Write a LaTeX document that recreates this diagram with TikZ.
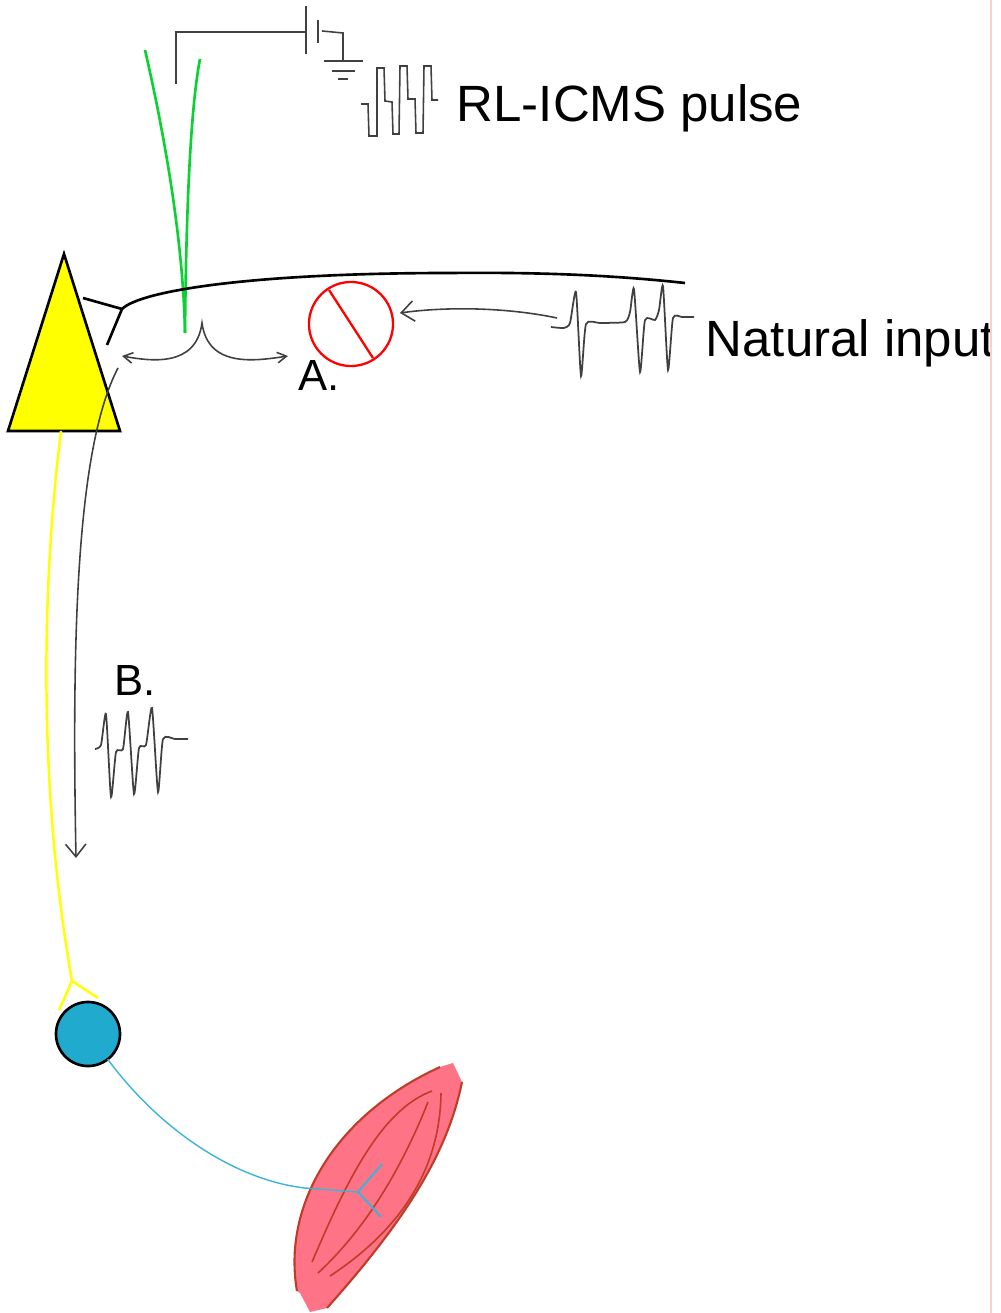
\documentclass[tikz,border=0pt]{standalone}
\usepackage{fontspec}
\setmainfont{Liberation Sans}
\usetikzlibrary{arrows.meta}
\tikzset{
	thinline/.style={line width=0.45pt,draw=black!75},
	heavyline/.style={line width=0.75pt,draw=black},
	spikeline/.style={line width=0.5pt,draw=black!75,smooth,tension=0.35},
	musclefibre/.style={line width=0.45pt,draw=musclered,smooth},
	bigbarb/.style={-{Straight Barb[length=3.6pt,width=5.8pt,line width=0.45pt]}},
	biglabel/.style={inner sep=0pt,anchor=base west,font=\fontsize{14.5pt}{17pt}\selectfont},
	smalllabel/.style={inner sep=0pt,anchor=base west,font=\fontsize{12.4pt}{15pt}\selectfont}
}
\definecolor{electrode}{RGB}{10,210,50}
\definecolor{bodyyellow}{RGB}{255,255,0}
\definecolor{motorblue}{RGB}{32,170,205}
\definecolor{nerveblue}{RGB}{60,180,215}
\definecolor{musclepink}{RGB}{255,115,135}
\definecolor{musclered}{RGB}{190,60,40}
\definecolor{edgepink}{RGB}{255,205,205}
\begin{document}
\begin{tikzpicture}[x=0.01cm,y=-0.01cm]
	\useasboundingbox (0,0) rectangle (1000,1313);

	% stimulator wire, battery and ground
	\draw[thinline] (176,84) -- (176,32) -- (306,32);
	\draw[thinline] (306,6) -- (306,54);
	\draw[thinline] (318,20) -- (318,43);
	\draw[thinline] (322,31) -- (343,33) -- (343,61);
	\draw[thinline] (324,61) -- (363,61);
	\draw[thinline] (332,71) -- (355,71);
	\draw[thinline] (338,79) -- (348,79);
	\draw[thinline] (361,104) -- (368,104) -- (369,136) -- (377,136) -- (377,68) -- (384,68) -- (385,101) -- (392,102) -- (393,134) -- (399,134) -- (400,66) -- (407,66) -- (408,99) -- (415,99) -- (416,133) -- (423,133) -- (424,66) -- (431,66) -- (432,100) -- (438,100);
	\node[biglabel] (pulselabel) at (456,122) {RL-ICMS pulse};

	% electrode
	\draw[line width=0.75pt,electrode] (145,50) .. controls (160,115) and (183,230) .. (185,333);
	\draw[line width=0.75pt,electrode] (200,59) .. controls (190,110) and (186,220) .. (185,333);

	% cell body and dendrite
	\draw[heavyline,fill=bodyyellow] (64,254) -- (120,431) -- (8,431) -- cycle;
	\coordinate (fork) at (122,309);
	\draw[heavyline] (fork) .. controls (140,291) and (250,273) .. (450,273) .. controls (550,272) and (620,276) .. (685,283);
	\draw[heavyline] (83,298) -- (fork) -- (107,345);

	% blocked input
	\node[circle,draw=red,line width=0.65pt,minimum size=0.84cm,inner sep=0pt,outer sep=0pt] (block) at (351,324) {};
	\draw[line width=0.65pt,red] (329,290) -- (373,358);
	\coordinate (nattail) at (557,318);
	\coordinate (nathead) at (400,313);
	\draw[thinline,bigbarb] (nattail) .. controls (510,308) and (450,306) .. (nathead);

	% spreading brace
	\coordinate (bracetop) at (202,323);
	\draw[thinline,{Straight Barb[length=2.6pt,width=3pt,line width=0.45pt]}-{Straight Barb[length=2.6pt,width=3pt,line width=0.45pt]}] (122,356) .. controls (150,361) and (196,368) .. (bracetop) .. controls (208,368) and (255,361) .. (288,356);
	\node[smalllabel] (alabel) at (298,391) {A.};

	% natural spike train
	\draw[spikeline] plot coordinates {(551,327) (564,328) (570,323) (576,292) (581,376) (586,324) (600,323) (625,322) (630,312) (634,289) (640,372) (645,320) (655,320) (659,310) (663,286) (668,370) (673,318) (682,317) (694,317)};
	\begin{scope}
		\clip (700,300) rectangle (991,380);
		\node[biglabel] (natlabel) at (705,357) {Natural input};
	\end{scope}

	% descending axon
	\draw[line width=0.7pt,bodyyellow] (61,431) .. controls (40,600) and (40,800) .. (72,981);
	\draw[line width=0.7pt,bodyyellow] (98,998) -- (72,981) -- (59,1010);
	\draw[thinline,bigbarb] (118,368) .. controls (75,450) and (72,650) .. (76,858);
	\node[smalllabel] (blabel) at (114,695) {B.};
	\draw[spikeline] plot coordinates {(95,749) (101,745) (106,714) (111,797) (116,752) (123,749) (128,712) (134,794) (139,748) (146,745) (152,708) (158,792) (163,739) (175,739) (188,739)};

	% muscle
	\fill[musclepink] (453,1063) -- (462,1082) .. controls (448,1150) and (410,1215) .. (327,1308) -- (310,1312) -- (300,1293) -- (297,1291) .. controls (282,1205) and (335,1115) .. (440,1067) -- cycle;
	\draw[line width=0.6pt,musclered] (462,1082) .. controls (448,1150) and (410,1215) .. (327,1308);
	\draw[line width=0.6pt,musclered] (297,1291) .. controls (282,1205) and (335,1115) .. (440,1067);
	\draw[musclefibre] (312,1262) .. controls (345,1185) and (380,1110) .. (432,1091);
	\draw[musclefibre] (318,1273) .. controls (370,1225) and (405,1160) .. (428,1102);
	\draw[musclefibre] (330,1276) .. controls (400,1230) and (440,1170) .. (441,1093);

	% motor neuron and its nerve
	\node[circle,draw=black,fill=motorblue,line width=0.75pt,minimum size=0.64cm,inner sep=0pt,outer sep=0pt] (motor) at (88,1034) {};
	\coordinate (nervefork) at (358,1192);
	\draw[line width=0.4pt,nerveblue] (motor.-52) .. controls (160,1130) and (235,1180) .. (305,1188) -- (nervefork);
	\draw[line width=0.55pt,nerveblue] (382,1164) -- (nervefork) -- (381,1217);

	% sheet edge
	\draw[line width=0.3pt,edgepink] (991,0) -- (991,1313);
\end{tikzpicture}
\end{document}
